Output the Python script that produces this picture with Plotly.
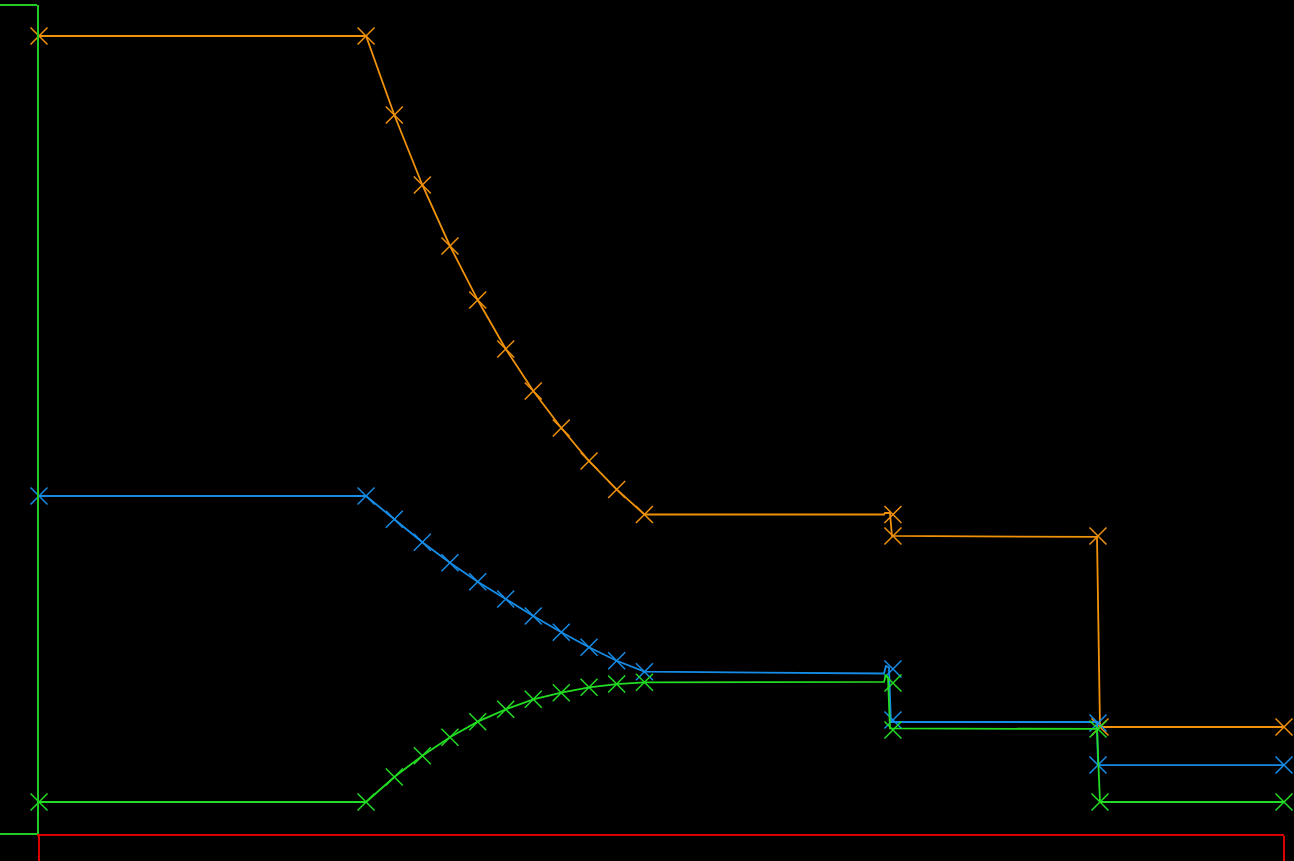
import plotly.graph_objects as go

# ---- data (x and y in normalised axis units 0..1) ----
# orange series
orange_line_x = [0.0, 0.2627, 0.2854, 0.3079, 0.3301, 0.3524, 0.3749, 0.3970, 0.4195, 0.4418, 0.4640, 0.4863,
                 0.6787, 0.6795, 0.6835, 0.6851, 0.8498, 0.8522, 1.0]
orange_line_y = [0.9626, 0.9626, 0.8673, 0.7829, 0.7093, 0.6441, 0.5850, 0.5344, 0.4897, 0.4499, 0.4156, 0.3854,
                 0.3854, 0.3872, 0.3872, 0.3595, 0.3583, 0.1291, 0.1291]
orange_mark_x = [0.0, 0.2627, 0.2854, 0.3079, 0.3301, 0.3524, 0.3749, 0.3970, 0.4195, 0.4418, 0.4640, 0.4863,
                 0.6859, 0.6859, 0.8506, 0.8522, 1.0]
orange_mark_y = [0.9626, 0.9626, 0.8673, 0.7829, 0.7093, 0.6441, 0.5850, 0.5344, 0.4897, 0.4499, 0.4156, 0.3854,
                 0.3854, 0.3595, 0.3595, 0.1291, 0.1291]

# blue series
blue_line_x = [0.0, 0.2627, 0.2854, 0.3079, 0.3301, 0.3524, 0.3749, 0.3970, 0.4195, 0.4418, 0.4640, 0.4863,
               0.6787, 0.6803, 0.6827, 0.6843, 0.8498, 0.8506, 1.0]
blue_line_y = [0.4077, 0.4077, 0.3796, 0.3519, 0.3273, 0.3043, 0.2835, 0.2630, 0.2433, 0.2252, 0.2090, 0.1958,
               0.1936, 0.2027, 0.2010, 0.1351, 0.1351, 0.0832, 0.0832]
blue_mark_x = [0.0, 0.2627, 0.2854, 0.3079, 0.3301, 0.3524, 0.3749, 0.3970, 0.4195, 0.4418, 0.4640, 0.4863,
               0.6859, 0.6859, 0.8506, 0.8506, 1.0]
blue_mark_y = [0.4077, 0.4077, 0.3796, 0.3519, 0.3273, 0.3043, 0.2835, 0.2630, 0.2433, 0.2252, 0.2090, 0.1958,
               0.1990, 0.1375, 0.1339, 0.0832, 0.0832]

# green series
green_line_x = [0.0, 0.2627, 0.2854, 0.3079, 0.3301, 0.3524, 0.3749, 0.3970, 0.4195, 0.4418, 0.4640, 0.4863,
                0.6787, 0.6803, 0.6819, 0.6835, 0.8498, 0.8522, 1.0]
green_line_y = [0.0386, 0.0386, 0.0688, 0.0945, 0.1166, 0.1355, 0.1504, 0.1625, 0.1704, 0.1770, 0.1809, 0.1830,
                0.1834, 0.1918, 0.1890, 0.1273, 0.1267, 0.0386, 0.0386]
green_mark_x = [0.0, 0.2627, 0.2854, 0.3079, 0.3301, 0.3524, 0.3749, 0.3970, 0.4195, 0.4418, 0.4640, 0.4863,
                0.6859, 0.6859, 0.8506, 0.8522, 1.0]
green_mark_y = [0.0386, 0.0386, 0.0688, 0.0945, 0.1166, 0.1355, 0.1504, 0.1625, 0.1704, 0.1770, 0.1809, 0.1830,
                0.1821, 0.1255, 0.1267, 0.0386, 0.0386]

ORANGE = "#f0920a"
BLUE = "#168ce6"
GREEN = "#22dd22"
AXIS_GREEN = "#22cc22"
AXIS_RED = "#dd0000"

fig = go.Figure()
series = [
    (orange_line_x, orange_line_y, orange_mark_x, orange_mark_y, ORANGE),
    (blue_line_x, blue_line_y, blue_mark_x, blue_mark_y, BLUE),
    (green_line_x, green_line_y, green_mark_x, green_mark_y, GREEN),
]
for lx, ly, mx, my, col in series:
    fig.add_trace(go.Scatter(x=lx, y=ly, mode="lines", line=dict(color=col, width=1.8),
                             cliponaxis=False, showlegend=False, hoverinfo="skip"))
    fig.add_trace(go.Scatter(x=mx, y=my, mode="markers",
                             marker=dict(symbol="x-thin", size=17, line=dict(color=col, width=1.5)),
                             cliponaxis=False, showlegend=False))

fig.update_layout(
    template="none",
    width=1294, height=861,
    margin=dict(l=39, r=10, t=5, b=27, autoexpand=False),
    paper_bgcolor="black", plot_bgcolor="black",
    xaxis=dict(range=[0, 1], showgrid=False, zeroline=False, showline=True, linecolor=AXIS_RED, linewidth=1.5,
               ticks="outside", tickvals=[0, 1], ticklen=26, tickcolor=AXIS_RED, tickwidth=1.5,
               showticklabels=False, fixedrange=True, automargin=False),
    yaxis=dict(range=[0, 1], showgrid=False, zeroline=False, showline=True, linecolor=AXIS_GREEN, linewidth=1.5,
               ticks="outside", tickvals=[0, 1], ticklen=37, tickcolor=AXIS_GREEN, tickwidth=1.5,
               showticklabels=False, fixedrange=True, automargin=False),
)

fig.write_html("out.html", post_script="document.body.style.margin='0';document.body.style.background='black';",
               config={"displayModeBar": False})
